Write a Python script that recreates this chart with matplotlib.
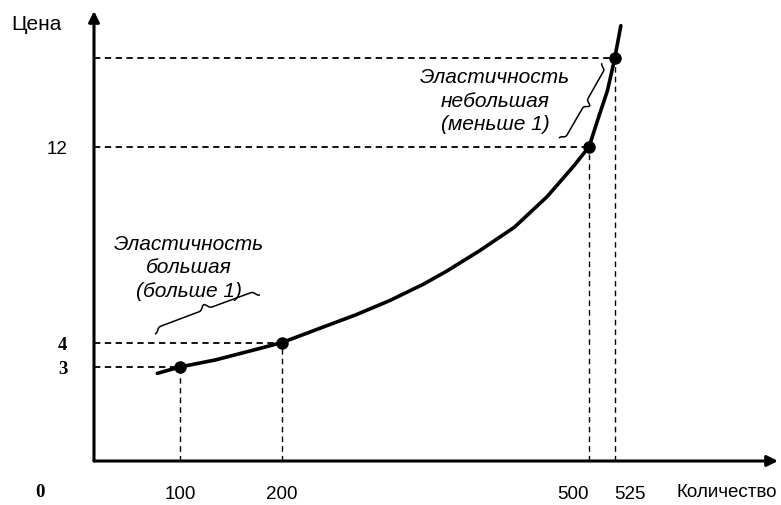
import numpy as np
import matplotlib
matplotlib.use("Agg")

import matplotlib.pyplot as plt

plt.rcParams["font.family"] = ["Liberation Sans", "DejaVu Sans"]

# points marked on the supply curve
quantity_points = [100, 200, 500, 525]
price_points = [3, 4, 12, 15.6]

# supply curve
curve_q = [78, 100, 135, 171, 200, 240, 272, 305, 338, 361, 393, 427, 459,
           485, 500, 509, 518, 525, 531]
curve_p = [2.74, 3.0, 3.29, 3.68, 4.0, 4.63, 5.13, 5.71, 6.38, 6.92, 7.75,
           8.71, 9.96, 11.21, 12.0, 13.17, 14.3, 15.6, 16.94]

x_tick_values = [100, 200, 500, 525]
x_tick_labels = ["100", "200", "500", "525"]
y_tick_values = [3, 4, 12]
y_tick_labels = ["3", "4", "12"]

label_big = "Эластичность\nбольшая\n(больше 1)"
label_small = "Эластичность\nнебольшая\n(меньше 1)"


def draw_brace(ax, p1, p2, height, flip=False, lw=1.1):
    """Curly brace between two data points, drawn in pixel space."""
    a = ax.transData.transform(p1)
    b = ax.transData.transform(p2)
    d = b - a
    length = np.hypot(*d)
    ux = d / length
    nx = np.array([-ux[1], ux[0]])
    if flip:
        nx = -nx
    u = np.linspace(0, 1, 400)
    half = np.where(u <= 0.5, u, 1 - u)
    k = 110.0
    v = (1 / (1 + np.exp(-k * (half - 0.035))) + 1 / (1 + np.exp(-k * (half - 0.475)))) / 2
    pts = a + np.outer(u * length, ux) + np.outer(v * height, nx)
    ax.plot(pts[:, 0], pts[:, 1], color="black", lw=lw, transform=None,
            clip_on=False, solid_capstyle="butt")


fig = plt.figure(figsize=(7.81, 5.06), dpi=100)
ax = fig.add_axes([94 / 781, 44 / 506, 684 / 781, 450 / 506])
ax.set_xlim(16.1, 684.6)
ax.set_ylim(-0.84, 17.54)
x0 = ax.get_xlim()[0]
y0 = ax.get_ylim()[0]

for q, p in zip(quantity_points, price_points):
    ax.plot([x0, q], [p, p], color="black", lw=1.3, linestyle=(0, (3.5, 2.5)))
    ax.plot([q, q], [y0, p], color="black", lw=1.0, linestyle=(0, (4, 3)))

ax.plot(curve_q, curve_p, color="black", lw=2.6, solid_capstyle="round",
        solid_joinstyle="round", clip_on=False)
ax.plot(quantity_points, price_points, "o", color="black", markersize=8)

for side in ["top", "right", "left", "bottom"]:
    ax.spines[side].set_visible(False)

arrow = dict(arrowstyle="-|>", color="black", lw=2.2, mutation_scale=16,
             shrinkA=0, shrinkB=0)
ax.annotate("", xy=(1, 0), xytext=(0, 0), xycoords="axes fraction",
            arrowprops=arrow, annotation_clip=False)
ax.annotate("", xy=(0, 1), xytext=(0, 0), xycoords="axes fraction",
            arrowprops=arrow, annotation_clip=False)

ax.set_xticks(x_tick_values)
ax.set_xticklabels(x_tick_labels, fontsize=13.5)
ax.set_yticks(y_tick_values)
ax.set_yticklabels(y_tick_labels, fontsize=13.5)
ax.tick_params(length=0)
ax.tick_params(axis="x", pad=17)
ax.tick_params(axis="y", pad=19)
xt = ax.get_xticklabels()
xt[2].set_ha("right")
xt[3].set_ha("left")
for lab in ax.get_yticklabels()[:2]:
    lab.set_fontfamily("Liberation Serif")
    lab.set_fontweight("bold")

fig.text(36 / 781, 1 - 25 / 506, "Цена", fontsize=15, ha="center", va="center")
fig.text(40 / 781, 1 - 493 / 506, "0", fontsize=13.5, ha="center", va="center",
         family="Liberation Serif", fontweight="bold")
fig.text(676 / 781, 1 - 493 / 506, "Количество", fontsize=13.5, ha="left", va="center")

ax.text(109, 7.1, label_big, fontsize=15, style="italic", ha="center",
        va="center", linespacing=1.3)
ax.text(408, 13.9, label_small, fontsize=15, style="italic", ha="center",
        va="center", linespacing=1.3)

draw_brace(ax, (75.7, 4.34), (178.3, 5.94), 11)
draw_brace(ax, (470.5, 12.35), (512.5, 15.41), 11, flip=True)

fig.savefig("out.png", dpi=100)
